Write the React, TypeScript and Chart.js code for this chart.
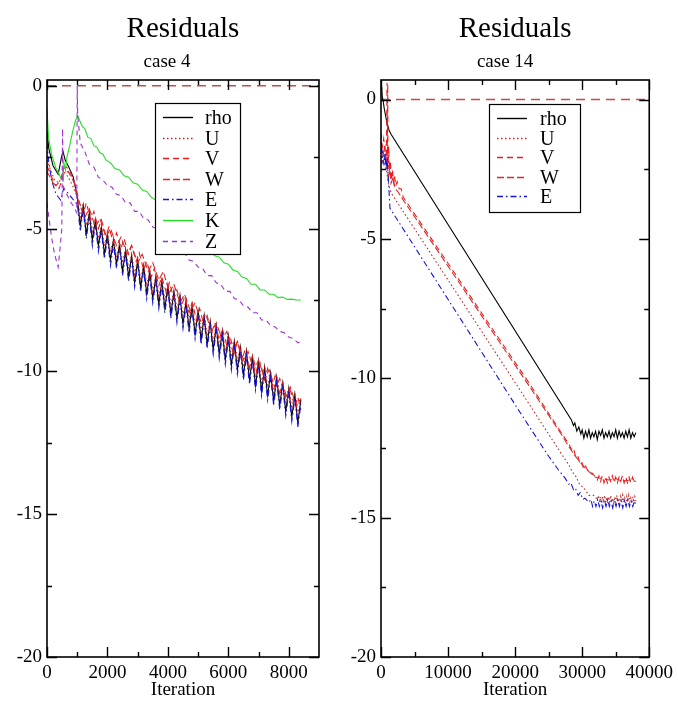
import React, { useEffect, useRef } from 'react';
import { Chart, registerables } from 'chart.js';

Chart.register(...registerables);

type P = [number, number];

// ---------------- case 4 (left) ----------------
const rhoL: P[] = [[0,-1.6],[60,-2.2],[200,-2.8],[370,-3.1],[480,-2.5],[530,-2.3],[600,-2.6],[700,-2.8],[870,-3.2],[1000,-3.9],
[1100,-4.9],[1200,-4.2],[1300,-5.2],[1400,-4.45],[1500,-5.4],[1600,-4.7],[1700,-5.6],[1800,-4.95],[1900,-5.9],[2000,-5.2],[2100,-6.1],[2200,-5.4],[2300,-6.25],[2400,-5.55],[2500,-6.5],[2600,-5.75],[2700,-6.7],[2800,-5.95],[2900,-6.9],[3000,-6.1],[3100,-7.05],[3200,-6.3],[3300,-7.3],[3400,-6.5],[3500,-7.45],[3600,-6.7],[3700,-7.65],[3800,-6.85],[3900,-7.8],[4000,-7.0],[4100,-8.0],[4200,-7.2],[4300,-8.15],[4400,-7.35],[4500,-8.35],[4600,-7.55],[4700,-8.5],[4800,-7.7],[4900,-8.7],[5000,-7.9],[5100,-8.9],[5200,-8.05],[5300,-9.05],[5400,-8.25],[5500,-9.25],[5600,-8.4],[5700,-9.4],[5800,-8.6],[5900,-9.6],[6000,-8.75],[6100,-9.8],[6200,-8.95],[6300,-9.95],[6400,-9.15],[6500,-10.15],[6600,-9.3],[6700,-10.3],[6800,-9.5],[6900,-10.5],[7000,-9.65],[7100,-10.7],[7200,-9.85],[7300,-10.85],[7400,-10.05],[7500,-11.05],[7600,-10.2],[7700,-11.2],[7800,-10.4],[7900,-11.4],[8000,-10.6],[8100,-11.6],[8200,-10.8],[8300,-11.8],[8400,-11.0]];

const uL: P[] = [[0,-2.6],[100,-2.9],[250,-3.3],[400,-3.4],[550,-3.0],[700,-3.2],[850,-3.5],[1000,-3.9],
[1100,-4.6],[1200,-4.1],[1300,-4.9],[1400,-4.4],[1500,-5.1],[1600,-4.65],[1700,-5.35],[1800,-4.9],[1900,-5.6],[2000,-5.15],[2100,-5.8],[2200,-5.35],[2300,-6.0],[2400,-5.5],[2500,-6.2],[2600,-5.7],[2700,-6.4],[2800,-5.9],[2900,-6.6],[3000,-6.05],[3100,-6.8],[3200,-6.25],[3300,-7.0],[3400,-6.45],[3500,-7.2],[3600,-6.65],[3700,-7.35],[3800,-6.8],[3900,-7.5],[4000,-6.95],[4100,-7.7],[4200,-7.15],[4300,-7.85],[4400,-7.3],[4500,-8.05],[4600,-7.5],[4700,-8.2],[4800,-7.65],[4900,-8.4],[5000,-7.85],[5100,-8.6],[5200,-8.0],[5300,-8.75],[5400,-8.2],[5500,-8.95],[5600,-8.35],[5700,-9.1],[5800,-8.55],[5900,-9.3],[6000,-8.7],[6100,-9.5],[6200,-8.9],[6300,-9.65],[6400,-9.1],[6500,-9.85],[6600,-9.25],[6700,-10.0],[6800,-9.45],[6900,-10.2],[7000,-9.6],[7100,-10.4],[7200,-9.8],[7300,-10.55],[7400,-10.0],[7500,-10.75],[7600,-10.15],[7700,-10.9],[7800,-10.35],[7900,-11.1],[8000,-10.55],[8100,-11.3],[8200,-10.75],[8300,-11.5],[8400,-10.95]];

const vL: P[] = [[0,-2.8],[150,-3.2],[300,-3.5],[450,-3.3],[550,-2.9],[650,-2.85],[800,-3.1],[950,-3.5],[1050,-4.0],
[1200,-4.5],[1300,-4.1],[1450,-4.7],[1550,-4.4],[1700,-5.0],[1800,-4.7],[1950,-5.25],[2050,-4.95],[2200,-5.5],[2300,-5.15],[2450,-5.7],[2550,-5.35],[2700,-5.9],[2800,-5.6],[2950,-6.15],[3050,-5.85],[3200,-6.45],[3300,-6.15],[3450,-6.7],[3550,-6.4],[3700,-7.0],[3800,-6.7],[3950,-7.25],[4050,-6.9],[4200,-7.45],[4300,-7.15],[4450,-7.7],[4550,-7.4],[4700,-7.95],[4800,-7.6],[4950,-8.2],[5050,-7.8],[5200,-8.4],[5300,-8.05],[5450,-8.65],[5550,-8.3],[5700,-8.9],[5800,-8.5],[5950,-9.1],[6050,-8.75],[6200,-9.35],[6300,-8.95],[6450,-9.6],[6550,-9.25],[6700,-9.85],[6800,-9.45],[6950,-10.05],[7050,-9.7],[7200,-10.3],[7300,-9.9],[7450,-10.55],[7550,-10.15],[7700,-10.75],[7800,-10.4],[7950,-11.0],[8050,-10.65],[8200,-11.25],[8300,-10.9],[8400,-11.35]];

const wL: P[] = [[0,-3.0],[200,-3.4],[400,-3.6],[550,-3.1],[700,-3.0],[900,-3.4],[1050,-4.1],
[1250,-4.6],[1400,-4.3],[1600,-4.95],[1750,-4.65],[1950,-5.3],[2100,-5.0],[2300,-5.6],[2450,-5.3],[2650,-5.9],[2800,-5.6],[3000,-6.2],[3150,-5.9],[3350,-6.5],[3500,-6.2],[3700,-6.8],[3850,-6.5],[4050,-7.25],[4200,-6.95],[4400,-7.6],[4550,-7.3],[4750,-7.9],[4900,-7.6],[5100,-8.3],[5250,-8.0],[5450,-8.6],[5600,-8.3],[5800,-8.9],[5950,-8.6],[6150,-9.3],[6300,-8.95],[6500,-9.6],[6650,-9.3],[6850,-9.95],[7000,-9.6],[7200,-10.25],[7350,-9.95],[7550,-10.6],[7700,-10.25],[7900,-10.9],[8050,-10.55],[8250,-11.2],[8400,-10.95]];

const eL: P[] = [[0,-2.0],[50,-2.6],[150,-3.3],[300,-3.8],[450,-4.0],[550,-3.6],[650,-3.7],[800,-3.9],[950,-4.1],[1000,-4.1],
[1100,-5.1],[1200,-4.35],[1300,-5.35],[1400,-4.6],[1500,-5.6],[1600,-4.85],[1700,-5.8],[1800,-5.1],[1900,-6.05],[2000,-5.35],[2100,-6.3],[2200,-5.55],[2300,-6.4],[2400,-5.7],[2500,-6.65],[2600,-5.9],[2700,-6.85],[2800,-6.1],[2900,-7.05],[3000,-6.25],[3100,-7.2],[3200,-6.45],[3300,-7.45],[3400,-6.65],[3500,-7.6],[3600,-6.85],[3700,-7.8],[3800,-7.0],[3900,-7.95],[4000,-7.15],[4100,-8.15],[4200,-7.35],[4300,-8.3],[4400,-7.5],[4500,-8.5],[4600,-7.7],[4700,-8.65],[4800,-7.85],[4900,-8.85],[5000,-8.05],[5100,-9.05],[5200,-8.2],[5300,-9.2],[5400,-8.4],[5500,-9.4],[5600,-8.55],[5700,-9.55],[5800,-8.75],[5900,-9.75],[6000,-8.9],[6100,-9.95],[6200,-9.1],[6300,-10.1],[6400,-9.3],[6500,-10.3],[6600,-9.45],[6700,-10.45],[6800,-9.65],[6900,-10.65],[7000,-9.8],[7100,-10.85],[7200,-10.0],[7300,-11.0],[7400,-10.2],[7500,-11.2],[7600,-10.35],[7700,-11.35],[7800,-10.55],[7900,-11.55],[8000,-10.75],[8100,-11.75],[8200,-10.95],[8300,-11.95],[8400,-11.15]];

const kL: P[] = [[0,-0.8],[50,-1.8],[150,-2.4],[300,-2.9],[450,-3.2],[520,-3.3],[560,-2.7],[610,-2.95],[660,-2.5],[750,-2.1],[850,-1.6],[950,-1.2],[1020,-1.05],[1150,-1.4],[1250,-1.5],[1350,-1.8],[1450,-1.85],[1550,-2.1],[1650,-2.15],[1750,-2.35],[1850,-2.4],[1950,-2.6],[2100,-2.7],[2250,-2.9],[2400,-2.95],[2550,-3.15],[2700,-3.2],[2850,-3.4],[3000,-3.45],[3150,-3.65],[3300,-3.7],[3450,-3.9],[3600,-4.0],[3750,-4.2],[3900,-4.25],[4050,-4.45],[4200,-4.55],[4350,-4.75],[4500,-4.8],[4650,-5.0],[4800,-5.1],[4950,-5.3],[5100,-5.4],[5250,-5.6],[5400,-5.75],[5550,-5.95],[5700,-6.0],[5850,-6.2],[6000,-6.25],[6150,-6.45],[6300,-6.5],[6450,-6.7],[6600,-6.75],[6750,-6.95],[6900,-6.95],[7050,-7.15],[7200,-7.15],[7350,-7.3],[7500,-7.3],[7650,-7.42],[7800,-7.4],[7950,-7.48],[8100,-7.47],[8250,-7.5],[8400,-7.5]];

const zL: P[] = [[0,-4.1],[60,-4.6],[150,-5.3],[250,-5.9],[370,-6.35],[440,-5.6],[490,-5.0],[515,-1.5],[535,-3.5],[600,-3.7],[700,-3.9],[800,-4.1],[900,-4.25],[985,-4.45],[1000,0],[1015,-1.0],[1100,-2.0],[1250,-2.3],[1400,-2.75],[1550,-2.85],[1700,-3.2],[1850,-3.3],[2000,-3.5],[2150,-3.55],[2300,-3.8],[2450,-3.85],[2600,-4.1],[2750,-4.1],[2900,-4.4],[3050,-4.4],[3200,-4.65],[3350,-4.7],[3500,-4.95],[3650,-5.0],[3800,-5.3],[3950,-5.3],[4100,-5.55],[4250,-5.6],[4400,-5.85],[4550,-5.85],[4700,-6.1],[4850,-6.15],[5000,-6.35],[5150,-6.4],[5300,-6.65],[5450,-6.65],[5600,-6.9],[5750,-6.95],[5900,-7.2],[6050,-7.2],[6200,-7.45],[6350,-7.5],[6500,-7.7],[6650,-7.75],[6800,-7.95],[6950,-7.95],[7100,-8.2],[7250,-8.2],[7400,-8.4],[7550,-8.45],[7700,-8.6],[7850,-8.65],[8000,-8.8],[8150,-8.85],[8300,-9.0],[8400,-8.95]];

const zeroL: P[] = [[0,0],[9000,0]];

// ---------------- case 14 (right) ----------------
const rhoR: P[] = [[0,0.2],[100,0.45],[200,0.1],[350,-0.1],[500,-0.35],[700,-0.6],[900,-0.85],[1200,-1.1],[1500,-1.25],[28400,-11.5],[28700,-11.7],[28900,-11.6],[29200,-11.9],[29500,-11.75],[29800,-12.0],
[30000,-11.85],[30250,-12.15],[30500,-11.9],[30750,-12.1],[31000,-11.85],[31250,-12.15],[31500,-11.95],[31750,-12.1],[32000,-11.9],[32250,-12.2],[32500,-11.9],[32750,-12.05],[33000,-11.85],[33250,-12.15],[33500,-11.95],[33750,-12.1],[34000,-11.9],[34250,-12.15],[34500,-11.95],[34750,-12.1],[35000,-11.85],[35250,-12.15],[35500,-11.9],[35750,-12.1],[36000,-11.95],[36250,-12.15],[36500,-11.9],[36750,-12.1],[37000,-11.85],[37250,-12.15],[37500,-11.95],[37750,-12.1],[38000,-11.95]];

const uR: P[] = [[0,-1.6],[300,-2.3],[600,-2.0],[900,-2.7],[1100,-3.0],[1300,-3.2],[1640,-3.4],[20670,-10.4],[27000,-12.75],[28000,-13.1],[28500,-13.35],[29000,-13.5],[29600,-13.8],[30300,-13.95],[31000,-14.2],[31700,-14.2],[32300,-14.35],
[32450,-14.2],[32600,-14.45],[32750,-14.25],[32900,-14.5],[33050,-14.25],[33200,-14.45],[33350,-14.2],[33500,-14.45],[33650,-14.3],[33800,-14.5],[33950,-14.25],[34100,-14.45],[34250,-14.2],[34400,-14.45],[34550,-14.3],[34700,-14.5],[34850,-14.25],[35000,-14.45],[35150,-14.2],[35300,-14.45],[35450,-14.3],[35600,-14.5],[35750,-14.25],[35900,-14.45],[36050,-14.2],[36200,-14.45],[36350,-14.3],[36500,-14.5],[36650,-14.25],[36800,-14.45],[36950,-14.2],[37100,-14.45],[37250,-14.3],[37400,-14.5],[37550,-14.25],[37700,-14.45],[37850,-14.25],[38000,-14.4]];

const vR: P[] = [[0,-1.2],[200,-1.7],[400,-1.4],[600,-1.9],[800,-2.2],[900,0.6],[950,-2.4],[1000,0.55],[1050,-2.5],[1150,-1.7],[1250,-2.7],[1400,-2.2],[1550,-2.9],[1700,-2.5],[1850,-2.95],[2000,-2.7],[2200,-3.1],[2400,-2.95],[2700,-3.2],[3000,-3.2],[3300,-3.5],[22160,-10.2],[27000,-12.0],[28000,-12.35],[28400,-12.55],[28700,-12.5],[29000,-12.8],[29300,-12.75],[29600,-13.0],[29900,-12.95],[30200,-13.25],[30500,-13.15],[31000,-13.4],[31500,-13.4],[32000,-13.55],
[32250,-13.65],[32500,-13.5],[32750,-13.7],[33000,-13.5],[33250,-13.75],[33500,-13.55],[33750,-13.75],[34000,-13.55],[34250,-13.7],[34500,-13.5],[34750,-13.75],[35000,-13.55],[35250,-13.75],[35500,-13.55],[35750,-13.7],[36000,-13.5],[36250,-13.75],[36500,-13.55],[36750,-13.75],[37000,-13.55],[37250,-13.75],[37500,-13.55],[37750,-13.7],[38000,-13.6]];

const wR: P[] = [[0,-1.5],[300,-2.0],[600,-1.7],[900,-2.5],[1100,-2.8],[1300,-2.4],[1500,-3.0],[1800,-2.8],[2100,-3.2],[2500,-3.3],[3300,-3.6],[22160,-10.3],[27000,-12.05],[28000,-12.45],[29000,-12.8],[30000,-13.1],[31000,-13.35],[32000,-13.55],[33000,-13.6],[34000,-13.65],[35000,-13.6],[36000,-13.7],[37000,-13.65],[38000,-13.7]];

const eR: P[] = [[0,-1.7],[150,-2.3],[300,-1.8],[450,-2.4],[600,-1.9],[750,-2.5],[900,-2.1],[1050,-2.7],[1200,-3.3],[1340,-3.9],[20670,-11.2],[25000,-12.8],[26500,-13.3],[27500,-13.6],[28000,-13.8],[28300,-13.75],[28700,-14.0],[29000,-13.95],[29400,-14.2],[29700,-14.1],[30100,-14.35],[30400,-14.3],[31000,-14.45],
[31300,-14.35],[31550,-14.6],[31800,-14.4],[32050,-14.6],[32300,-14.35],[32550,-14.6],[32800,-14.4],[33050,-14.65],[33300,-14.4],[33550,-14.6],[33800,-14.35],[34050,-14.6],[34300,-14.4],[34550,-14.65],[34800,-14.4],[35050,-14.6],[35300,-14.35],[35550,-14.6],[35800,-14.4],[36050,-14.65],[36300,-14.4],[36550,-14.6],[36800,-14.35],[37050,-14.6],[37300,-14.4],[37550,-14.6],[37800,-14.4],[38000,-14.55]];

const zeroR: P[] = [[0,0],[40000,0]];

// ---------------- axes ----------------
const xMajorL = [0, 2000, 4000, 6000, 8000];
const xMinorL = [1000, 3000, 5000, 7000];
const xMajorR = [0, 10000, 20000, 30000, 40000];
const xMinorR = [5000, 15000, 25000, 35000];
const yMajor = [0, -5, -10, -15, -20];
const yMinor = [-2.5, -7.5, -12.5, -17.5];

const SERIF = '"Liberation Serif", "Times New Roman", serif';

const framePlugin = {
  id: 'frame',
  afterDatasetsDraw(chart: any, _a: any, opts: any) {
    const { ctx, chartArea: a, scales } = chart;
    ctx.save();
    ctx.strokeStyle = '#000';
    ctx.lineWidth = 1.4;
    ctx.setLineDash([]);
    ctx.beginPath();
    const xt = (vals: number[], len: number) => vals.forEach((v) => {
      const px = Math.round(scales.x.getPixelForValue(v)) + 0.5;
      ctx.moveTo(px, a.bottom); ctx.lineTo(px, a.bottom - len);
      ctx.moveTo(px, a.top); ctx.lineTo(px, a.top + len);
    });
    const yt = (vals: number[], len: number) => vals.forEach((v) => {
      const py = Math.round(scales.y.getPixelForValue(v)) + 0.5;
      ctx.moveTo(a.left, py); ctx.lineTo(a.left + len, py);
      ctx.moveTo(a.right, py); ctx.lineTo(a.right - len, py);
    });
    xt(opts.xMajor, 10); xt(opts.xMinor, 5);
    yt(yMajor, 10); yt(yMinor, 5);
    ctx.stroke();
    ctx.lineWidth = 1.6;
    ctx.strokeRect(a.left, a.top, a.right - a.left, a.bottom - a.top);
    ctx.restore();
  },
};

const boxLegendPlugin = {
  id: 'boxLegend',
  afterDatasetsDraw(chart: any, _a: any, opts: any) {
    const { ctx, chartArea: a } = chart;
    const x0 = a.left + opts.dx;
    const y0 = a.top + opts.dy;
    ctx.save();
    ctx.fillStyle = '#fff';
    ctx.fillRect(x0, y0, opts.w, opts.h);
    ctx.strokeStyle = '#000';
    ctx.lineWidth = 1.2;
    ctx.setLineDash([]);
    ctx.strokeRect(x0 + 0.5, y0 + 0.5, opts.w, opts.h);
    const items = chart.data.datasets.filter((d: any) => d.label && !d.label.startsWith('_'));
    items.forEach((d: any, i: number) => {
      const y = Math.round(y0 + opts.first + i * opts.step) + 0.5;
      ctx.beginPath();
      ctx.setLineDash(d.borderDash || []);
      ctx.strokeStyle = d.borderColor;
      ctx.lineWidth = 1.4;
      ctx.moveTo(x0 + 8, y);
      ctx.lineTo(x0 + 38, y);
      ctx.stroke();
      ctx.setLineDash([]);
      ctx.fillStyle = '#000';
      ctx.font = `20px ${SERIF}`;
      ctx.textBaseline = 'middle';
      ctx.textAlign = 'left';
      ctx.fillText(d.label, x0 + opts.tx, y + 1);
    });
    ctx.restore();
  },
};

const titlesPlugin = {
  id: 'titles',
  afterDraw(chart: any, _a: any, opts: any) {
    const { ctx, chartArea: a } = chart;
    const cx = (a.left + a.right) / 2;
    ctx.save();
    ctx.fillStyle = '#000';
    ctx.textAlign = 'center';
    ctx.textBaseline = 'alphabetic';
    ctx.font = `29px ${SERIF}`;
    ctx.fillText(opts.title, cx, 37);
    ctx.font = `19px ${SERIF}`;
    ctx.fillText(opts.subtitle, cx + opts.subDx, 67);
    ctx.restore();
  },
};

const toXY = (p: P[]) => p.map(([x, y]) => ({ x, y }));

function ds(label: string, data: P[], color: string, dash: number[], order: number, width = 1.1) {
  return {
    label,
    data: toXY(data),
    borderColor: color,
    backgroundColor: color,
    borderDash: dash,
    borderWidth: width,
    pointRadius: 0,
    tension: 0,
    fill: false,
    order,
  };
}

const C_RHO = '#000000';
const C_U = '#c02424';
const C_V = '#ee1c1c';
const C_W = '#d82a2a';
const C_E = '#1515d8';
const C_K = '#22e022';
const C_Z = '#9a34d0';
const C_ZERO = '#c24c4c';

const D_U = [1.5, 2.5];
const D_V = [6, 4];
const D_W = [7, 3];
const D_E = [6, 3, 1.5, 3];
const D_Z = [5, 4];
const D_ZERO = [9, 6];

function makeConfig(side: 'L' | 'R') {
  const left = side === 'L';
  const datasets: any[] = left
    ? [
        ds('rho', rhoL, C_RHO, [], 7),
        ds('U', uL, C_U, D_U, 6),
        ds('V', vL, C_V, D_V, 5),
        ds('W', wL, C_W, D_W, 4),
        ds('E', eL, C_E, D_E, 3),
        ds('K', kL, C_K, [], 2),
        ds('Z', zL, C_Z, D_Z, 1),
        ds('_zero', zeroL, C_ZERO, D_ZERO, 8, 1.4),
      ]
    : [
        ds('rho', rhoR, C_RHO, [], 7),
        ds('U', uR, C_U, D_U, 6),
        ds('V', vR, C_V, D_V, 5),
        ds('W', wR, C_W, D_W, 4),
        ds('E', eR, C_E, D_E, 3),
        ds('_zero', zeroR, C_ZERO, D_ZERO, 8, 1.4),
      ];
  const xMajor = left ? xMajorL : xMajorR;
  const xMinor = left ? xMinorL : xMinorR;
  const tickFont = { family: SERIF, size: 19 };
  return {
    type: 'line' as const,
    data: { datasets },
    options: {
      responsive: false,
      animation: false as const,
      events: [] as any[],
      devicePixelRatio: 1,
      layout: { padding: { top: 80, right: left ? 20 : 28, left: 0, bottom: 0 } },
      scales: {
        x: {
          type: 'linear' as const,
          min: 0,
          max: left ? 9000 : 40000,
          afterBuildTicks: (s: any) => { s.ticks = xMajor.map((v) => ({ value: v })); },
          afterFit: (s: any) => { s.height = 45; },
          grid: { display: false, drawTicks: false },
          border: { display: false },
          ticks: { font: tickFont, color: '#000', padding: 5, maxRotation: 0, autoSkip: false, callback: (v: any) => String(v) },
          title: { display: true, text: 'Iteration', font: { family: SERIF, size: 19 }, color: '#000', padding: { top: 0, bottom: 1 } },
        },
        y: {
          type: 'linear' as const,
          min: -20,
          max: left ? 0.2 : 0.7,
          afterBuildTicks: (s: any) => { s.ticks = yMajor.map((v) => ({ value: v })); },
          afterFit: (s: any) => { s.width = left ? 47 : 42; },
          grid: { display: false, drawTicks: false },
          border: { display: false },
          ticks: { font: tickFont, color: '#000', padding: 5, autoSkip: false, callback: (v: any) => String(v) },
        },
      },
      plugins: {
        legend: { display: false },
        tooltip: { enabled: false },
        frame: { xMajor, xMinor },
        boxLegend: left
          ? { dx: 108, dy: 23, w: 85, h: 151, first: 14, step: 20.6, tx: 50 }
          : { dx: 108, dy: 24, w: 91, h: 108, first: 14, step: 19.5, tx: 51 },
        titles: { title: 'Residuals', subtitle: left ? 'case 4' : 'case 14', subDx: left ? -16 : -10 },
      },
    },
    plugins: [framePlugin, boxLegendPlugin, titlesPlugin],
  };
}

function Panel({ side }: { side: 'L' | 'R' }) {
  const ref = useRef<HTMLCanvasElement | null>(null);
  useEffect(() => {
    if (!ref.current) return;
    const chart = new Chart(ref.current, makeConfig(side) as any);
    return () => chart.destroy();
  }, [side]);
  return <canvas ref={ref} width={339} height={702} style={{ display: 'block', width: 339, height: 702 }} />;
}

export default function App() {
  return (
    <div style={{ position: 'absolute', left: 0, top: 0, width: 678, height: 702, background: '#fff', display: 'flex' }}>
      <Panel side="L" />
      <Panel side="R" />
    </div>
  );
}
